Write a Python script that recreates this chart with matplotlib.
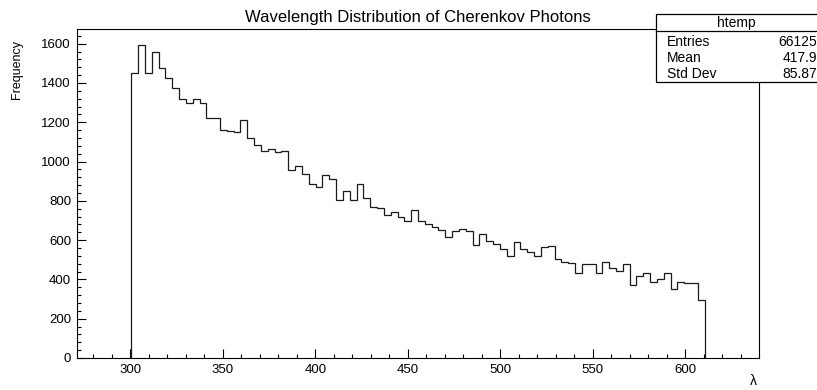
import matplotlib.pyplot as plt
from matplotlib.patches import Rectangle
from matplotlib.ticker import MultipleLocator
import numpy as np

plt.rcParams['font.family'] = ['Liberation Sans', 'DejaVu Sans']

# histogram "htemp": 100 bins over the axis range, only bins 8..91 are filled
x_min, x_max, n_bins = 271.0, 640.0, 100
first_bin = 8
counts = [1453, 1595, 1450, 1560, 1477, 1427, 1374, 1316, 1296, 1318,
          1296, 1221, 1224, 1163, 1154, 1149, 1210, 1121, 1082, 1055,
          1063, 1051, 1055, 959, 978, 935, 887, 871, 932, 909,
          803, 851, 803, 886, 812, 771, 764, 728, 742, 719,
          697, 755, 699, 680, 668, 651, 617, 646, 658, 644,
          573, 629, 596, 581, 557, 517, 588, 555, 538, 518,
          564, 568, 504, 490, 485, 431, 478, 480, 434, 489,
          460, 444, 478, 374, 417, 432, 388, 400, 432, 349,
          388, 381, 382, 296]

stats_labels = ['Entries', 'Mean', 'Std Dev']
stats_values = ['66125', '417.9', '85.87']

width = (x_max - x_min) / n_bins
edges = x_min + width * (first_bin + np.arange(len(counts) + 1))

fig = plt.figure(figsize=(8.17, 3.9), dpi=100)
ax = fig.add_axes([76.6 / 817, 32 / 390, (759.4 - 76.6) / 817, (358 - 29) / 390])

ax.stairs(counts, edges, baseline=0, color='#1a1a1a', lw=0.9)

ax.set_xlim(x_min, x_max)
ax.set_ylim(0, 1.05 * max(counts))
ax.xaxis.set_major_locator(MultipleLocator(50))
ax.xaxis.set_minor_locator(MultipleLocator(10))
ax.yaxis.set_major_locator(MultipleLocator(200))
ax.yaxis.set_minor_locator(MultipleLocator(40))
ax.tick_params(which='both', direction='in', top=False, right=False,
               labelsize=9.5, width=0.8, colors='black')
ax.tick_params(which='major', length=6.5, pad=4)
ax.tick_params(which='minor', length=3.2)
for s in ax.spines.values():
    s.set_linewidth(0.8)

ax.set_title('Wavelength Distribution of Cherenkov Photons', fontsize=12, pad=5)
fig.text(757 / 817, 1 - 381 / 390, 'λ', fontsize=10, ha='right', va='center')
fig.text(17 / 817, 1 - 40 / 390, 'Frequency', fontsize=9, rotation=90,
         ha='center', va='top')

# stats box
bx0, by0, by1, bsep = 656 / 817, 1 - 82 / 390, 1 - 14 / 390, 1 - 31 / 390
fig.patches.append(Rectangle((bx0, by0), 1.2 - bx0, by1 - by0, transform=fig.transFigure,
                             facecolor='white', edgecolor='black', lw=0.9))
fig.add_artist(plt.Line2D([bx0, 1.0], [bsep, bsep], transform=fig.transFigure,
                          color='black', lw=0.9))
fig.text(736 / 817, 1 - 22.5 / 390, 'htemp', fontsize=10, ha='center', va='center')
for i, (lab, val) in enumerate(zip(stats_labels, stats_values)):
    yy = 1 - (42 + 16 * i) / 390
    fig.text(667 / 817, yy, lab, fontsize=10, ha='left', va='center')
    fig.text(817.5 / 817, yy, val, fontsize=10, ha='right', va='center')

fig.savefig('out.png', dpi=100)
